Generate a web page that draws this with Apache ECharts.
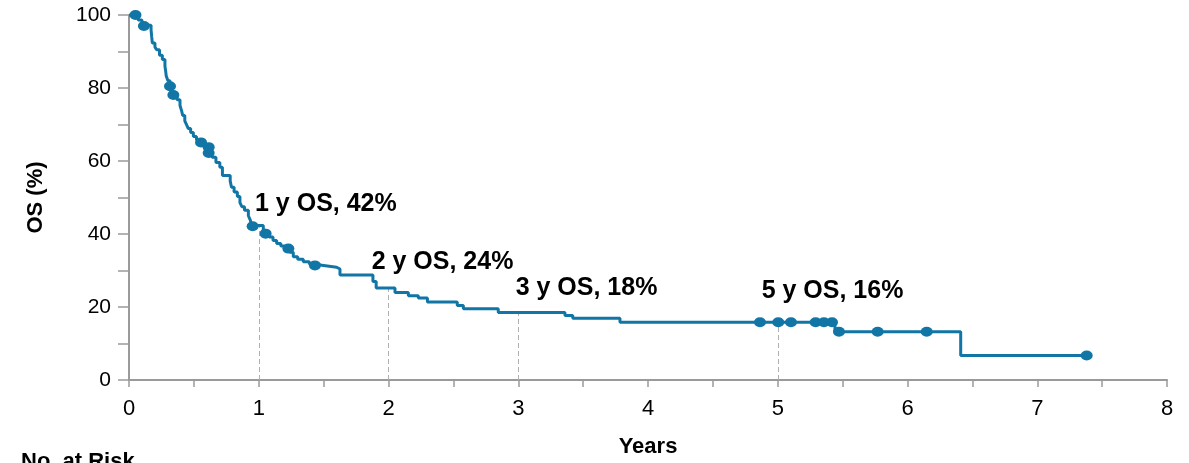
<!DOCTYPE html>
<html>
<head>
<meta charset="utf-8">
<script src="https://cdn.jsdelivr.net/npm/echarts@6/dist/echarts.min.js"></script>
<style>
  html, body { margin: 0; padding: 0; background: #fff; }
  #main { width: 1189px; height: 463px; }
</style>
</head>
<body>
<div id="main"></div>
<script>
// Kaplan-Meier: event times (years) and survival after each step (%)
var timeYears = [0, 0.07, 0.10, 0.17, 0.175, 0.18, 0.20, 0.213, 0.235, 0.257, 0.277, 0.283, 0.287,
  0.30, 0.316, 0.33, 0.37, 0.393, 0.405, 0.414, 0.43, 0.445, 0.457, 0.475, 0.496, 0.52, 0.545,
  0.59, 0.61, 0.614, 0.64, 0.67, 0.70, 0.72, 0.78, 0.79, 0.81, 0.835, 0.855, 0.87, 0.89, 0.92,
  0.935, 0.946, 1.035, 1.053, 1.08, 1.11, 1.138, 1.17, 1.20, 1.24, 1.266, 1.30, 1.343, 1.39, 1.42,
  1.50, 1.60, 1.626, 1.88, 1.905, 2.05, 2.153, 2.23, 2.30, 2.53, 2.577, 2.846, 3.36, 3.42, 3.784,
  5.441, 6.41, 7.381];
var survivalPct = [100, 98.6, 97.2, 95.9, 94, 92.3, 91.2, 90.5, 89, 87.8, 86, 84.5, 83.3,
  82, 80.5, 78.1, 76.8, 75.2, 73.8, 72.5, 71, 69.8, 68.9, 67.8, 66.7, 65.8, 65.1,
  64.4, 63.8, 62.2, 61, 59.6, 58.3, 56, 54.5, 52.8, 51.5, 50.3, 48.6, 47.5, 46.5, 45,
  43.8, 42.3, 41, 40.1, 39.2, 38.2, 37.4, 36.7, 36.1, 35, 33.8, 33.1, 32.4, 31.8, 31.4,
  30.9, 30.4, 28.8, 27, 25.2, 24, 23.1, 22.5, 21.4, 20.4, 19.5, 18.5, 17.7, 16.9, 15.8,
  13.2, 6.7, 6.7];

// censored observations
var censorYears = [0.05, 0.115, 0.316, 0.342, 0.555, 0.614, 0.614, 0.953, 1.053, 1.228, 1.433,
  4.863, 5.004, 5.102, 5.292, 5.356, 5.418, 5.472, 5.77, 6.148, 7.381];
var censorPct = [100, 97, 80.5, 78.1, 65.1, 63.8, 62.2, 42.1, 40.1, 36, 31.4,
  15.8, 15.8, 15.8, 15.8, 15.8, 15.8, 13.2, 13.2, 13.2, 6.7];

// milestones
var milestoneYears = [1, 2, 3, 5];
var milestoneOS = [42, 24, 18, 16];

var xTicks = [0, 1, 2, 3, 4, 5, 6, 7, 8];
var yTicks = [0, 20, 40, 60, 80, 100];

function survivalAt(t) {
  var s = 100;
  for (var i = 0; i < timeYears.length; i++) {
    if (timeYears[i] <= t) s = survivalPct[i];
  }
  return s;
}

var curve = [];
for (var i = 0; i < timeYears.length; i++) curve.push([timeYears[i], survivalPct[i]]);
var censored = [];
for (var j = 0; j < censorYears.length; j++) censored.push([censorYears[j], censorPct[j]]);

// text anchors for the milestone labels (data coords of label's left-middle)
var labelAnchor = [[0.971, 48.1], [1.870, 32.4], [2.98, 25.2], [4.876, 24.3]];

var dashLines = [];
var labelPoints = [];
for (var k = 0; k < milestoneYears.length; k++) {
  dashLines.push([{ coord: [milestoneYears[k], 0] }, { coord: [milestoneYears[k], survivalAt(milestoneYears[k])] }]);
  labelPoints.push({
    coord: labelAnchor[k],
    label: { formatter: milestoneYears[k] + ' y OS, ' + milestoneOS[k] + '%' }
  });
}

var axisGrey = '#9a9a9a';
var blue = '#1176a6';

var myChart = echarts.init(document.getElementById('main'));
var option = {
  animation: false,
  grid: { left: 129, right: 22, top: 15, bottom: 78 },
  xAxis: {
    type: 'value',
    min: xTicks[0], max: xTicks[xTicks.length - 1], interval: 1,
    name: 'Years', nameLocation: 'middle', nameGap: 56,
    nameTextStyle: { fontFamily: 'Liberation Sans', fontWeight: 'bold', fontSize: 22, color: '#000' },
    axisLine: { lineStyle: { color: axisGrey, width: 2 } },
    axisTick: { length: 7, lineStyle: { color: axisGrey, width: 1.5 } },
    minorTick: { show: true, splitNumber: 2, length: 7, lineStyle: { color: axisGrey, width: 1.5 } },
    axisLabel: { margin: 18, fontFamily: 'Liberation Sans', fontSize: 22, color: '#000' },
    splitLine: { show: false }
  },
  yAxis: {
    type: 'value',
    min: yTicks[0], max: yTicks[yTicks.length - 1], interval: 20,
    name: 'OS (%)', nameLocation: 'middle', nameGap: 82,
    nameTextStyle: { fontFamily: 'Liberation Sans', fontWeight: 'bold', fontSize: 22, color: '#000' },
    axisLine: { show: true, lineStyle: { color: axisGrey, width: 2 } },
    axisTick: { show: true, length: 11, lineStyle: { color: axisGrey, width: 1.5 } },
    minorTick: { show: true, splitNumber: 2, length: 11, lineStyle: { color: axisGrey, width: 1.5 } },
    axisLabel: { margin: 18, fontFamily: 'Liberation Sans', fontSize: 21, color: '#000' },
    splitLine: { show: false }
  },
  series: [
    {
      type: 'line',
      step: 'end',
      data: curve,
      showSymbol: false,
      lineStyle: { color: blue, width: 3 },
      z: 3,
      markLine: {
        silent: true,
        symbol: 'none',
        label: { show: false },
        lineStyle: { color: '#b0b0b0', width: 1, type: [5, 3] },
        data: dashLines,
        z: 1
      },
      markPoint: {
        silent: true,
        symbol: 'circle',
        symbolSize: 0,
        label: {
          show: true, position: 'right', distance: 0,
          fontFamily: 'Liberation Sans', fontWeight: 'bold', fontSize: 25, color: '#000'
        },
        data: labelPoints
      }
    },
    {
      type: 'scatter',
      data: censored,
      symbol: 'circle',
      symbolSize: [12, 10],
      itemStyle: { color: blue, opacity: 1 },
      z: 4
    }
  ],
  graphic: [{
    type: 'text', left: 21, top: 451,
    style: { text: 'No. at Risk', fontFamily: 'Liberation Sans', fontWeight: 'bold', fontSize: 22, fill: '#000' }
  }]
};
myChart.setOption(option);
</script>
</body>
</html>
